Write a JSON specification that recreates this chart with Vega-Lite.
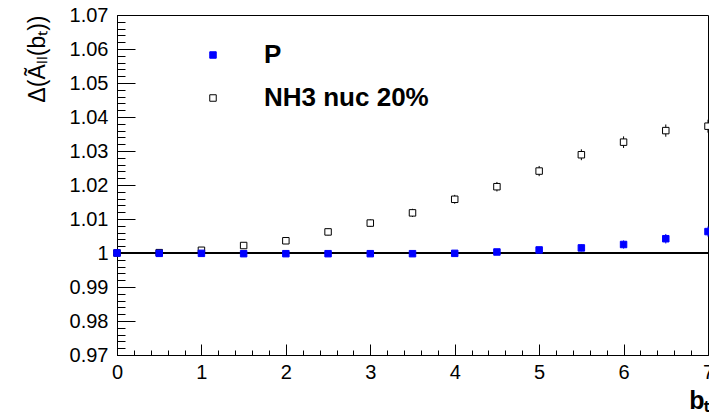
{
  "$schema": "https://vega.github.io/schema/vega-lite/v6.json",
  "width": 591,
  "height": 340,
  "autosize": {"type": "none"},
  "padding": {"left": 117, "top": 15, "right": 1, "bottom": 61},
  "background": "white",
  "data": {
    "values": [
      {"series": "NH3 nuc 20%", "bT": 0.0, "v": 1.0000, "e": 0.0006},
      {"series": "NH3 nuc 20%", "bT": 0.5, "v": 1.0001, "e": 0.0006},
      {"series": "NH3 nuc 20%", "bT": 1.0, "v": 1.0008, "e": 0.0007},
      {"series": "NH3 nuc 20%", "bT": 1.5, "v": 1.0022, "e": 0.0008},
      {"series": "NH3 nuc 20%", "bT": 2.0, "v": 1.0036, "e": 0.0009},
      {"series": "NH3 nuc 20%", "bT": 2.5, "v": 1.0062, "e": 0.0010},
      {"series": "NH3 nuc 20%", "bT": 3.0, "v": 1.0088, "e": 0.0011},
      {"series": "NH3 nuc 20%", "bT": 3.5, "v": 1.0118, "e": 0.0012},
      {"series": "NH3 nuc 20%", "bT": 4.0, "v": 1.0158, "e": 0.0013},
      {"series": "NH3 nuc 20%", "bT": 4.5, "v": 1.0195, "e": 0.0014},
      {"series": "NH3 nuc 20%", "bT": 5.0, "v": 1.0241, "e": 0.0015},
      {"series": "NH3 nuc 20%", "bT": 5.5, "v": 1.0289, "e": 0.0016},
      {"series": "NH3 nuc 20%", "bT": 6.0, "v": 1.0326, "e": 0.0017},
      {"series": "NH3 nuc 20%", "bT": 6.5, "v": 1.0360, "e": 0.0018},
      {"series": "NH3 nuc 20%", "bT": 7.0, "v": 1.0373, "e": 0.0019},
      {"series": "P", "bT": 0.0, "v": 1.0000, "e": 0.0004},
      {"series": "P", "bT": 0.5, "v": 0.9999, "e": 0.0004},
      {"series": "P", "bT": 1.0, "v": 0.9999, "e": 0.0004},
      {"series": "P", "bT": 1.5, "v": 0.9998, "e": 0.0005},
      {"series": "P", "bT": 2.0, "v": 0.9998, "e": 0.0005},
      {"series": "P", "bT": 2.5, "v": 0.9998, "e": 0.0005},
      {"series": "P", "bT": 3.0, "v": 0.9998, "e": 0.0006},
      {"series": "P", "bT": 3.5, "v": 0.9998, "e": 0.0006},
      {"series": "P", "bT": 4.0, "v": 0.9999, "e": 0.0007},
      {"series": "P", "bT": 4.5, "v": 1.0003, "e": 0.0008},
      {"series": "P", "bT": 5.0, "v": 1.0009, "e": 0.0009},
      {"series": "P", "bT": 5.5, "v": 1.0015, "e": 0.0010},
      {"series": "P", "bT": 6.0, "v": 1.0025, "e": 0.0012},
      {"series": "P", "bT": 6.5, "v": 1.0042, "e": 0.0014},
      {"series": "P", "bT": 7.0, "v": 1.0063, "e": 0.0015}
    ]
  },
  "encoding": {
    "x": {
      "field": "bT", "type": "quantitative",
      "scale": {"domain": [0, 7], "nice": false, "zero": false},
      "axis": {
        "title": "bₜ",
        "titleFontWeight": "bold",
        "titleFontSize": 25,
        "titleAnchor": "end",
        "titleAlign": "right",
        "titleBaseline": "alphabetic",
        "titleX": 593,
        "titleY": 53,
        "values": [0,0.2,0.4,0.6,0.8,1,1.2,1.4,1.6,1.8,2,2.2,2.4,2.6,2.8,3,3.2,3.4,3.6,3.8,4,4.2,4.4,4.6,4.8,5,5.2,5.4,5.6,5.8,6,6.2,6.4,6.6,6.8,7],
        "labelExpr": "abs(datum.value - round(datum.value)) < 1e-6 ? format(datum.value, 'd') : ''",
        "tickSize": {"condition": {"test": "abs(datum.value - round(datum.value)) < 1e-6", "value": -11}, "value": -5},
        "labelPadding": 18,
        "labelFlush": false,
        "labelOverlap": false
      }
    },
    "y": {
      "field": "v", "type": "quantitative",
      "scale": {"domain": [0.97, 1.07], "nice": false, "zero": false},
      "axis": {
        "title": "Δ(Ãₗₗ(bₜ))",
        "titleFontSize": 23,
        "titleFontWeight": "normal",
        "titleAngle": -90,
        "titleAlign": "right",
        "titleBaseline": "alphabetic",
        "titleAnchor": "end",
        "titleX": -73,
        "titleY": 0,
        "values": [0.97,0.972,0.974,0.976,0.978,0.98,0.982,0.984,0.986,0.988,0.99,0.992,0.994,0.996,0.998,1,1.002,1.004,1.006,1.008,1.01,1.012,1.014,1.016,1.018,1.02,1.022,1.024,1.026,1.028,1.03,1.032,1.034,1.036,1.038,1.04,1.042,1.044,1.046,1.048,1.05,1.052,1.054,1.056,1.058,1.06,1.062,1.064,1.066,1.068,1.07],
        "labelExpr": "abs(datum.value * 100 - round(datum.value * 100)) < 1e-6 ? format(datum.value, '~g') : ''",
        "tickSize": {"condition": {"test": "abs(datum.value * 100 - round(datum.value * 100)) < 1e-6", "value": -18}, "value": -8},
        "labelPadding": 27,
        "labelFlush": false,
        "labelOverlap": false
      }
    }
  },
  "layer": [
    {
      "mark": {"type": "rule", "color": "black", "strokeWidth": 2},
      "encoding": {"y": {"datum": 1}, "x": {"datum": 0}, "x2": {"datum": 7}}
    },
    {
      "transform": [{"filter": "datum.series === 'NH3 nuc 20%'"}],
      "mark": {"type": "errorbar", "ticks": false, "thickness": 1, "color": "#000000"},
      "encoding": {"yError": {"field": "e"}}
    },
    {
      "transform": [{"filter": "datum.series === 'P'"}],
      "mark": {"type": "errorbar", "ticks": false, "thickness": 1, "color": "#0000ff"},
      "encoding": {"yError": {"field": "e"}}
    },
    {
      "mark": {"type": "point", "shape": "square", "size": 42, "strokeWidth": 1, "opacity": 1},
      "encoding": {
        "fill": {
          "field": "series", "type": "nominal",
          "scale": {"domain": ["P", "NH3 nuc 20%"], "range": ["#0000ff", "#ffffff"]},
          "legend": {
            "title": null,
            "orient": "none",
            "legendX": 83,
            "legendY": 27
          }
        },
        "stroke": {
          "field": "series", "type": "nominal",
          "scale": {"domain": ["P", "NH3 nuc 20%"], "range": ["#0000ff", "#000000"]},
          "legend": {
            "title": null,
            "orient": "none",
            "legendX": 83,
            "legendY": 27
          }
        }
      }
    }
  ],
  "config": {
    "view": {"stroke": "black", "strokeWidth": 1},
    "axis": {
      "grid": false,
      "domainColor": "black",
      "domainWidth": 1,
      "tickColor": "black",
      "tickWidth": 1,
      "labelFont": "Liberation Sans",
      "labelFontSize": 20,
      "labelColor": "black",
      "titleFont": "Liberation Sans",
      "titleColor": "black"
    },
    "legend": {
      "padding": 0,
      "labelFont": "Liberation Sans",
      "labelFontSize": 26,
      "labelFontWeight": "bold",
      "labelColor": "black",
      "labelOffset": 38,
      "rowPadding": 17,
      "symbolSize": 42,
      "symbolStrokeWidth": 1,
      "symbolType": "square",
      "labelLimit": 400
    }
  }
}
